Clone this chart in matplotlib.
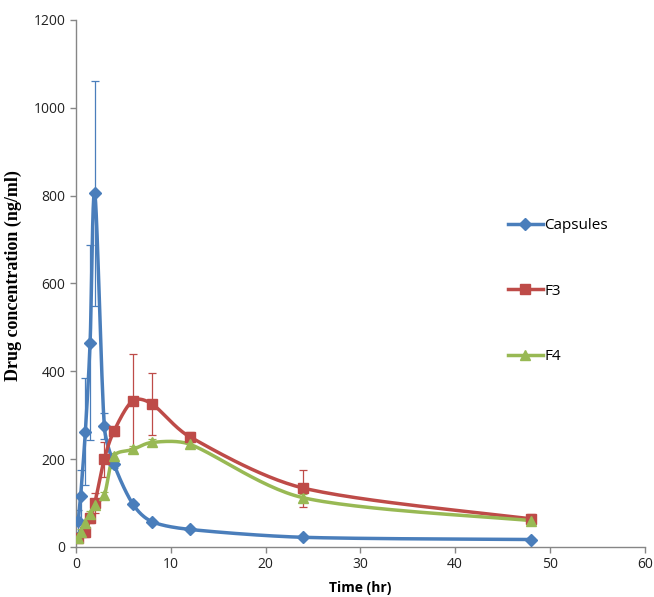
import numpy as np
import matplotlib.pyplot as plt
from matplotlib.lines import Line2D

# sampling times (hr)
time_hr = [0.25, 0.5, 1, 1.5, 2, 3, 4, 6, 8, 12, 24, 48]

capsules = [60, 115, 262, 465, 805, 275, 190, 98, 58, 40, 22, 17]
capsules_sd = [25, 60, 122, 222, 257, 30, 10, 5, 4, 4, 3, 3]

f3_time = [0.25, 1, 1.5, 2, 3, 4, 6, 8, 12, 24, 48]
f3 = [20, 33, 66, 100, 200, 263, 333, 326, 251, 134, 64]
f3_sd = [8, 10, 12, 23, 40, 10, 107, 70, 10, 42, 10]

f4 = [20, 35, 55, 75, 95, 118, 207, 222, 238, 234, 112, 60]
f4_sd = [4, 5, 6, 6, 6, 8, 8, 8, 8, 6, 8, 5]

BLUE = '#4A7EBB'
RED = '#BE4B48'
GREEN = '#98B954'


def excel_smooth(x, y, sx, sy, n=30):
    """Bezier smoothing similar to Excel's smoothed lines (in pixel space)."""
    px = np.asarray(x, float) * sx
    py = np.asarray(y, float) * sy
    pts = np.column_stack([px, py])
    out = []
    for i in range(len(pts) - 1):
        p0 = pts[i - 1] if i > 0 else pts[i]
        p1 = pts[i]
        p2 = pts[i + 1]
        p3 = pts[i + 2] if i + 2 < len(pts) else pts[i + 1]
        seg_len = np.hypot(*(p2 - p1))
        h1 = (p2 - p0) / 6.0
        h2 = (p3 - p1) / 6.0
        # keep handles short so the curve does not bulge on uneven spacing
        lim = seg_len / 3.0
        for h in (h1, h2):
            L = np.hypot(*h)
            if L > lim:
                h *= lim / L
        c1 = p1 + h1
        c2 = p2 - h2
        t = np.linspace(0, 1, n)[:, None]
        seg = ((1 - t) ** 3) * p1 + 3 * ((1 - t) ** 2) * t * c1 \
            + 3 * (1 - t) * t ** 2 * c2 + t ** 3 * p2
        out.append(seg if i == 0 else seg[1:])
    seg = np.vstack(out)
    return seg[:, 0] / sx, seg[:, 1] / sy


fig = plt.figure(figsize=(6.54, 5.97), dpi=100)
ax = fig.add_axes([0.116, 0.0838, 0.870, 0.8827])

# pixels per data unit, used for smoothing
sx = 569 / 60.0
sy = 527 / 1200.0

series = [
    (time_hr, capsules, capsules_sd, BLUE, 'D', 6, 'Capsules'),
    (f3_time, f3, f3_sd, RED, 's', 7.5, 'F3'),
    (time_hr, f4, f4_sd, GREEN, '^', 7.5, 'F4'),
]

handles = []
for t, v, sd, col, mk, ms, lab in series:
    ax.errorbar(t, v, yerr=sd, fmt='none', ecolor=col, elinewidth=0.9,
                capsize=3, capthick=0.9, zorder=2)
    xs, ys = excel_smooth(t, v, sx, sy)
    ax.plot(xs, ys, color=col, lw=2.5, zorder=3)
    ax.plot(t, v, ls='none', marker=mk, ms=ms, color=col, zorder=4)
    handles.append(Line2D([], [], color=col, lw=2.5, marker=mk, ms=ms, label=lab))

ax.set_xlim(0, 60)
ax.set_ylim(0, 1200)
ax.set_xticks(range(0, 61, 10))
ax.set_yticks(range(0, 1201, 200))

for side in ['top', 'right']:
    ax.spines[side].set_visible(False)
for side in ['left', 'bottom']:
    ax.spines[side].set_color('#868686')
    ax.spines[side].set_linewidth(1.0)
ax.tick_params(direction='out', color='#868686', length=4, width=1,
               labelsize=10, labelcolor='#222222')
for lbl in ax.get_xticklabels() + ax.get_yticklabels():
    lbl.set_family('Open Sans')

ax.set_xlabel('Time (hr)', family='Open Sans', fontweight='bold', fontsize=10, labelpad=6)
ax.set_ylabel('Drug concentration (ng/ml)', family='Liberation Serif',
              fontweight='bold', fontsize=13, labelpad=5)
ax.yaxis.set_label_coords(-0.095, 0.515)

leg = ax.legend(handles=handles, loc='upper left', bbox_to_anchor=(0.735, 0.65),
                frameon=False, labelspacing=3.3, handlelength=2.3,
                handletextpad=0.1, prop={'family': 'Open Sans', 'size': 11})

fig.savefig('out.png', dpi=100)
